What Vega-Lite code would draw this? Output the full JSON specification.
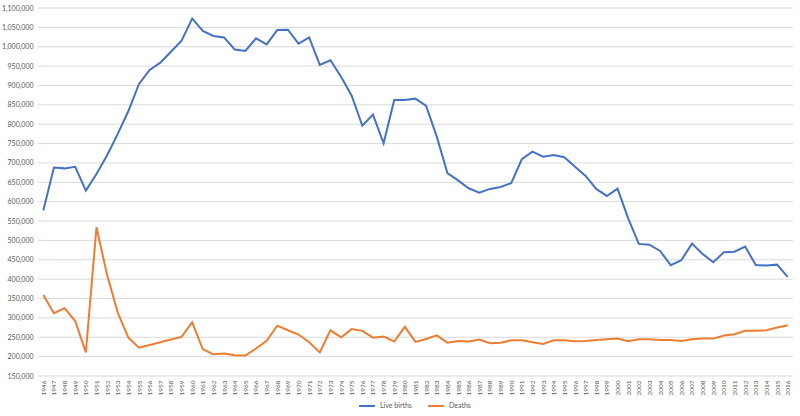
{
  "$schema": "https://vega.github.io/schema/vega-lite/v6.json",
  "width": 755,
  "height": 368,
  "autosize": {"type": "none"},
  "padding": {"left": 38, "top": 8, "right": 7, "bottom": 40},
  "background": "white",
  "datasets": {
    "grid": [
      {"g":150000},{"g":200000},{"g":250000},{"g":300000},{"g":350000},{"g":400000},{"g":450000},{"g":500000},{"g":550000},{"g":600000},
      {"g":650000},{"g":700000},{"g":750000},{"g":800000},{"g":850000},{"g":900000},{"g":950000},{"g":1000000},{"g":1050000},{"g":1100000}
    ],
    "series": [
      {"s":"Live births","year":"1946","v":577000},{"s":"Live births","year":"1947","v":688000},{"s":"Live births","year":"1948","v":686000},{"s":"Live births","year":"1949","v":690000},{"s":"Live births","year":"1950","v":628500},
      {"s":"Live births","year":"1951","v":671600},{"s":"Live births","year":"1952","v":720000},{"s":"Live births","year":"1953","v":775000},{"s":"Live births","year":"1954","v":834000},{"s":"Live births","year":"1955","v":904000},
      {"s":"Live births","year":"1956","v":940000},{"s":"Live births","year":"1957","v":959000},{"s":"Live births","year":"1958","v":987000},{"s":"Live births","year":"1959","v":1015600},{"s":"Live births","year":"1960","v":1073000},
      {"s":"Live births","year":"1961","v":1040600},{"s":"Live births","year":"1962","v":1027700},{"s":"Live births","year":"1963","v":1024000},{"s":"Live births","year":"1964","v":993000},{"s":"Live births","year":"1965","v":989000},
      {"s":"Live births","year":"1966","v":1021700},{"s":"Live births","year":"1967","v":1006000},{"s":"Live births","year":"1968","v":1043000},{"s":"Live births","year":"1969","v":1044000},{"s":"Live births","year":"1970","v":1008000},
      {"s":"Live births","year":"1971","v":1024000},{"s":"Live births","year":"1972","v":953000},{"s":"Live births","year":"1973","v":965000},{"s":"Live births","year":"1974","v":922700},{"s":"Live births","year":"1975","v":873600},
      {"s":"Live births","year":"1976","v":796000},{"s":"Live births","year":"1977","v":824600},{"s":"Live births","year":"1978","v":750800},{"s":"Live births","year":"1979","v":862500},{"s":"Live births","year":"1980","v":862500},
      {"s":"Live births","year":"1981","v":866000},{"s":"Live births","year":"1982","v":847000},{"s":"Live births","year":"1983","v":768000},{"s":"Live births","year":"1984","v":674000},{"s":"Live births","year":"1985","v":655000},
      {"s":"Live births","year":"1986","v":634600},{"s":"Live births","year":"1987","v":623000},{"s":"Live births","year":"1988","v":633000},{"s":"Live births","year":"1989","v":638000},{"s":"Live births","year":"1990","v":648000},
      {"s":"Live births","year":"1991","v":709500},{"s":"Live births","year":"1992","v":729000},{"s":"Live births","year":"1993","v":716000},{"s":"Live births","year":"1994","v":720600},{"s":"Live births","year":"1995","v":714600},
      {"s":"Live births","year":"1996","v":690000},{"s":"Live births","year":"1997","v":666400},{"s":"Live births","year":"1998","v":633000},{"s":"Live births","year":"1999","v":614800},{"s":"Live births","year":"2000","v":633700},
      {"s":"Live births","year":"2001","v":557000},{"s":"Live births","year":"2002","v":491000},{"s":"Live births","year":"2003","v":489000},{"s":"Live births","year":"2004","v":472800},{"s":"Live births","year":"2005","v":436000},
      {"s":"Live births","year":"2006","v":449000},{"s":"Live births","year":"2007","v":491700},{"s":"Live births","year":"2008","v":465000},{"s":"Live births","year":"2009","v":443600},{"s":"Live births","year":"2010","v":469400},
      {"s":"Live births","year":"2011","v":471000},{"s":"Live births","year":"2012","v":484000},{"s":"Live births","year":"2013","v":436700},{"s":"Live births","year":"2014","v":435000},{"s":"Live births","year":"2015","v":437500},
      {"s":"Live births","year":"2016","v":405700},
      {"s":"Deaths","year":"1946","v":359300},{"s":"Deaths","year":"1947","v":312000},{"s":"Deaths","year":"1948","v":325000},{"s":"Deaths","year":"1949","v":292000},{"s":"Deaths","year":"1950","v":211000},
      {"s":"Deaths","year":"1951","v":534000},{"s":"Deaths","year":"1952","v":411000},{"s":"Deaths","year":"1953","v":313600},{"s":"Deaths","year":"1954","v":249000},{"s":"Deaths","year":"1955","v":223000},
      {"s":"Deaths","year":"1956","v":230000},{"s":"Deaths","year":"1957","v":237000},{"s":"Deaths","year":"1958","v":244000},{"s":"Deaths","year":"1959","v":251000},{"s":"Deaths","year":"1960","v":288800},
      {"s":"Deaths","year":"1961","v":219000},{"s":"Deaths","year":"1962","v":206000},{"s":"Deaths","year":"1963","v":208000},{"s":"Deaths","year":"1964","v":203500},{"s":"Deaths","year":"1965","v":203000},
      {"s":"Deaths","year":"1966","v":221000},{"s":"Deaths","year":"1967","v":240600},{"s":"Deaths","year":"1968","v":280000},{"s":"Deaths","year":"1969","v":268000},{"s":"Deaths","year":"1970","v":257000},
      {"s":"Deaths","year":"1971","v":237000},{"s":"Deaths","year":"1972","v":211000},{"s":"Deaths","year":"1973","v":268000},{"s":"Deaths","year":"1974","v":250000},{"s":"Deaths","year":"1975","v":271000},
      {"s":"Deaths","year":"1976","v":266500},{"s":"Deaths","year":"1977","v":249000},{"s":"Deaths","year":"1978","v":252000},{"s":"Deaths","year":"1979","v":239000},{"s":"Deaths","year":"1980","v":277000},
      {"s":"Deaths","year":"1981","v":238000},{"s":"Deaths","year":"1982","v":245500},{"s":"Deaths","year":"1983","v":255000},{"s":"Deaths","year":"1984","v":236000},{"s":"Deaths","year":"1985","v":240500},
      {"s":"Deaths","year":"1986","v":239000},{"s":"Deaths","year":"1987","v":244000},{"s":"Deaths","year":"1988","v":234500},{"s":"Deaths","year":"1989","v":236000},{"s":"Deaths","year":"1990","v":242000},
      {"s":"Deaths","year":"1991","v":242000},{"s":"Deaths","year":"1992","v":237000},{"s":"Deaths","year":"1993","v":232800},{"s":"Deaths","year":"1994","v":242000},{"s":"Deaths","year":"1995","v":242000},
      {"s":"Deaths","year":"1996","v":239700},{"s":"Deaths","year":"1997","v":240500},{"s":"Deaths","year":"1998","v":243000},{"s":"Deaths","year":"1999","v":244700},{"s":"Deaths","year":"2000","v":246500},
      {"s":"Deaths","year":"2001","v":239700},{"s":"Deaths","year":"2002","v":244700},{"s":"Deaths","year":"2003","v":244700},{"s":"Deaths","year":"2004","v":243000},{"s":"Deaths","year":"2005","v":243000},
      {"s":"Deaths","year":"2006","v":240600},{"s":"Deaths","year":"2007","v":244700},{"s":"Deaths","year":"2008","v":246500},{"s":"Deaths","year":"2009","v":246500},{"s":"Deaths","year":"2010","v":254300},
      {"s":"Deaths","year":"2011","v":257800},{"s":"Deaths","year":"2012","v":266500},{"s":"Deaths","year":"2013","v":266500},{"s":"Deaths","year":"2014","v":268000},{"s":"Deaths","year":"2015","v":275000},
      {"s":"Deaths","year":"2016","v":281000}
    ]
  },
  "config": {
    "font": "Lato",
    "view": {"stroke": null},
    "axisX": {"labelColor": "#595959", "domain": false, "ticks": false, "grid": false},
    "axisY": {"labelColor": "#595959", "domain": false, "ticks": false, "labelOverlap": false, "grid": false, "tickCount": 19, "format": ",d", "labelFontSize": 7, "labelPadding": 5, "title": null}
  },
  "layer": [
    {
      "data": {"name": "grid"},
      "mark": {"type": "rule", "color": "#dadada", "strokeWidth": 1},
      "encoding": {
        "y": {"field": "g", "type": "quantitative", "title": null,
              "scale": {"domain": [150000, 1100000], "nice": false, "zero": false}}
      }
    },
    {
      "data": {"name": "series"},
      "mark": {"type": "line", "strokeWidth": 2},
      "encoding": {
        "x": {"field": "year", "type": "ordinal", "title": null,
              "scale": {"type": "point", "padding": 0.5},
              "axis": {"labelAngle": -90, "labelFontSize": 6.5, "labelPadding": 4, "labelOverlap": false}},
        "y": {"field": "v", "type": "quantitative", "title": null},
        "color": {"field": "s", "type": "nominal", "sort": ["Live births", "Deaths"],
                  "scale": {"domain": ["Live births", "Deaths"], "range": ["#4472C4", "#ED7D31"]},
                  "legend": {"title": null, "orient": "none", "legendX": 320, "legendY": 389, "direction": "horizontal",
                             "symbolType": "stroke", "symbolStrokeWidth": 2, "symbolSize": 250,
                             "labelFontSize": 7, "labelColor": "#595959", "columnPadding": 12}}
      }
    }
  ]
}
